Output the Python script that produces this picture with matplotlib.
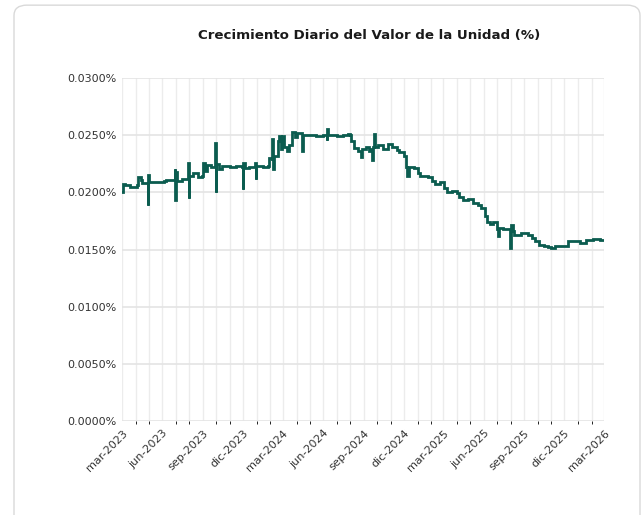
import matplotlib
matplotlib.use("Agg")
import matplotlib.pyplot as plt
import matplotlib.dates as mdates
from matplotlib.patches import FancyBboxPatch
from matplotlib.ticker import FuncFormatter, MultipleLocator
import pandas as pd

# %%
# Data (daily growth, in percent)
dates = [
    "2023-03-01", "2023-03-03", "2023-03-08", "2023-03-20", "2023-04-05", "2023-04-07",
    "2023-04-14", "2023-04-16", "2023-04-28", "2023-04-29", "2023-04-30", "2023-05-02",
    "2023-05-20", "2023-06-05", "2023-06-08", "2023-06-28", "2023-06-29", "2023-06-30",
    "2023-07-01", "2023-07-05", "2023-07-15", "2023-07-29", "2023-07-30", "2023-07-31",
    "2023-08-01", "2023-08-10", "2023-08-20", "2023-08-31", "2023-09-02", "2023-09-05",
    "2023-09-10", "2023-09-20", "2023-09-28", "2023-09-29", "2023-09-30", "2023-10-01",
    "2023-10-08", "2023-10-15", "2023-11-01", "2023-11-15", "2023-11-29", "2023-11-30",
    "2023-12-01", "2023-12-05", "2023-12-15", "2023-12-29", "2023-12-30", "2023-12-31",
    "2024-01-15", "2024-01-28", "2024-01-30", "2024-02-04", "2024-02-06", "2024-02-07",
    "2024-02-10", "2024-02-18", "2024-02-22", "2024-02-26", "2024-02-28", "2024-03-03",
    "2024-03-10", "2024-03-15", "2024-03-22", "2024-03-28", "2024-04-02", "2024-04-13",
    "2024-04-14", "2024-04-15", "2024-05-01", "2024-05-15", "2024-06-01", "2024-06-08",
    "2024-06-09", "2024-06-10", "2024-06-11", "2024-07-01", "2024-07-15", "2024-07-28",
    "2024-07-31", "2024-08-02", "2024-08-10", "2024-08-18", "2024-08-26", "2024-08-28",
    "2024-09-06", "2024-09-12", "2024-09-18", "2024-09-20", "2024-09-22", "2024-09-25",
    "2024-09-27", "2024-10-04", "2024-10-15", "2024-10-25", "2024-11-05", "2024-11-15",
    "2024-11-20", "2024-12-01", "2024-12-06", "2024-12-09", "2024-12-12", "2024-12-25",
    "2025-01-03", "2025-01-06", "2025-01-24", "2025-02-03", "2025-02-10", "2025-02-20",
    "2025-03-03", "2025-03-10", "2025-03-20", "2025-03-31", "2025-04-05", "2025-04-14",
    "2025-04-25", "2025-05-07", "2025-05-18", "2025-05-26", "2025-06-04", "2025-06-08",
    "2025-06-14", "2025-06-22", "2025-07-01", "2025-07-03", "2025-07-05", "2025-07-15",
    "2025-07-30", "2025-07-31", "2025-08-01", "2025-08-05", "2025-08-09", "2025-08-25",
    "2025-09-10", "2025-09-18", "2025-09-25", "2025-10-04", "2025-10-15", "2025-10-25",
    "2025-11-01", "2025-11-10", "2025-11-25", "2025-12-05", "2025-12-09", "2025-12-20",
    "2026-01-05", "2026-01-15", "2026-01-20", "2026-02-05", "2026-02-20", "2026-03-01",
]
values = [
    0.0200, 0.0207, 0.0206, 0.0205, 0.0206, 0.0213,
    0.0211, 0.0208, 0.0208, 0.0189, 0.0215, 0.0209,
    0.0209, 0.0210, 0.0211, 0.0211, 0.0220, 0.0193,
    0.0218, 0.0210, 0.0212, 0.0212, 0.0226, 0.0195,
    0.0214, 0.0217, 0.0213, 0.0214, 0.0226, 0.0219,
    0.0224, 0.0222, 0.0222, 0.0243, 0.0200, 0.0225,
    0.0220, 0.0223, 0.0222, 0.0223, 0.0222, 0.0203,
    0.0226, 0.0221, 0.0222, 0.0226, 0.0212, 0.0223,
    0.0222, 0.0223, 0.0230, 0.0228, 0.0247, 0.0220,
    0.0232, 0.0245, 0.0249, 0.0238, 0.0249, 0.0240,
    0.0236, 0.0241, 0.0253, 0.0248, 0.0252, 0.0251,
    0.0236, 0.0250, 0.0250, 0.0249, 0.0250, 0.0250,
    0.0246, 0.0255, 0.0250, 0.0249, 0.0250, 0.0251,
    0.0250, 0.0245, 0.0239, 0.0236, 0.0231, 0.0238,
    0.0240, 0.0236, 0.0238, 0.0228, 0.0240, 0.0251,
    0.0240, 0.0241, 0.0238, 0.0242, 0.0240, 0.0237,
    0.0235, 0.0232, 0.0222, 0.0214, 0.0222, 0.0221,
    0.0217, 0.0214, 0.0213, 0.0210, 0.0207, 0.0209,
    0.0204, 0.0200, 0.0201, 0.0199, 0.0196, 0.0193,
    0.0194, 0.0191, 0.0189, 0.0186, 0.0179, 0.0174,
    0.0172, 0.0174, 0.0168, 0.0162, 0.0169, 0.0168,
    0.0168, 0.0151, 0.0171, 0.0166, 0.0163, 0.0164,
    0.0163, 0.0160, 0.0157, 0.0154, 0.0153, 0.0152,
    0.0151, 0.0153, 0.0153, 0.0153, 0.0157, 0.0157,
    0.0156, 0.0156, 0.0158, 0.0159, 0.0158, 0.0158,
]
tick_dates = [
    "2023-03-01", "2023-06-01", "2023-09-01", "2023-12-01", "2024-03-01",
    "2024-06-01", "2024-09-01", "2024-12-01", "2025-03-01", "2025-06-01",
    "2025-09-01", "2025-12-01", "2026-03-01",
]
tick_labels = [
    "mar-2023", "jun-2023", "sep-2023", "dic-2023", "mar-2024", "jun-2024",
    "sep-2024", "dic-2024", "mar-2025", "jun-2025", "sep-2025", "dic-2025",
    "mar-2026",
]

# %%
# Figure
plt.rcParams["font.family"] = ["DejaVu Sans"]
fig = plt.figure(figsize=(6.43, 5.15), dpi=100)

# card outline, kept behind the axes
card = FancyBboxPatch(
    (14 / 643, -0.05), 626 / 643, 1.04,
    boxstyle="round,pad=0,rounding_size=0.02",
    transform=fig.transFigure, facecolor="white", edgecolor="#d9d9d9", lw=1,
    zorder=-10,
)
fig.patches.append(card)

ax = fig.add_axes([122 / 643, 1 - 421 / 515, 482 / 643, 343 / 515])
ax.patch.set_alpha(0)
ax.plot(pd.to_datetime(dates), values, color="#0b5c4f", lw=2.0,
        drawstyle="steps-post", solid_joinstyle="miter")

ax.set_ylim(0, 0.03)
ax.set_xlim(pd.Timestamp("2023-03-01"), pd.Timestamp("2026-03-01"))
ax.yaxis.set_major_locator(MultipleLocator(0.005))
ax.yaxis.set_major_formatter(FuncFormatter(lambda v, p: f"{v:.4f}%"))
ax.xaxis.set_minor_locator(mdates.MonthLocator())
ax.set_xticks(pd.to_datetime(tick_dates))
ax.set_xticklabels(tick_labels, rotation=45, ha="right", rotation_mode="anchor")

ax.grid(axis="y", which="major", color="#e4e4e4", lw=1.2)
ax.grid(axis="x", which="minor", color="#ececec", lw=1.0)
ax.grid(axis="x", which="major", color="#ececec", lw=1.0)
ax.set_axisbelow(True)
for s in ax.spines.values():
    s.set_visible(False)
ax.tick_params(length=0, labelsize=8, colors="#333333", pad=4)
ax.tick_params(axis="x", pad=5)

fig.text(0.574, 0.932, "Crecimiento Diario del Valor de la Unidad (%)",
         ha="center", va="center", fontsize=9.6, fontweight="bold", color="#1a1a1a")

fig.savefig("out.png", dpi=100)
